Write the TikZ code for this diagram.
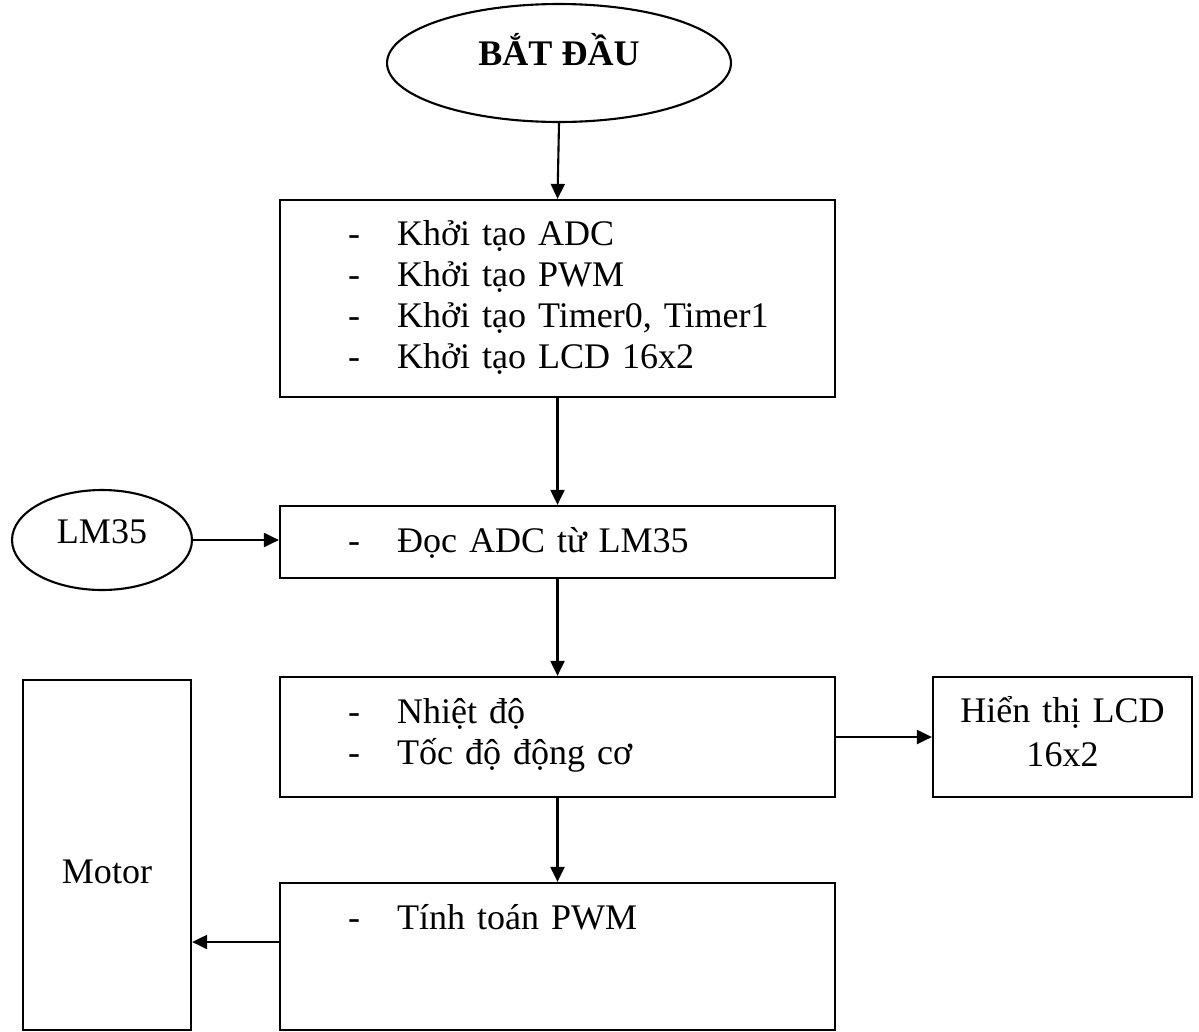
\documentclass[tikz,border=0pt]{standalone}
\usepackage{fontspec}
\setmainfont{Liberation Serif}
\usetikzlibrary{arrows.meta,shapes.geometric}

\newcommand{\dashline}[1]{\mbox{\makebox[0.98cm][l]{-}#1}}

\begin{document}
\begin{tikzpicture}[
  x=0.02cm, y=-0.02cm,
  every node/.style={font=\fontsize{20.5pt}{23.5pt}\selectfont},
  stepbox/.style={rectangle, draw, line width=1.3pt, align=left, text width=8.38cm, inner xsep=1.36cm, inner ysep=0pt},
  sidebox/.style={rectangle, draw, line width=1.3pt, align=center, inner xsep=0.1cm, inner ysep=0pt},
  terminal/.style={ellipse, draw, line width=1.2pt, inner sep=1pt},
  flow/.style={draw, line width=1.2pt, -{Triangle[length=0.3cm, width=0.28cm]}}
]
\useasboundingbox (0,0) rectangle (1199,1031);

\node[terminal, minimum width=6.88cm, minimum height=2.36cm, text height=0.68cm, text depth=0.6cm, font=\fontsize{20.5pt}{23.5pt}\selectfont\bfseries] (start) at (559,63) {BẮT ĐẦU};

\node[stepbox, text height=0.9cm, text depth=3.04cm] (init) at (557.5,298.5)
  {\dashline{Khởi tạo ADC}\\ \dashline{Khởi tạo PWM}\\ \dashline{Khởi tạo Timer0, Timer1}\\ \dashline{Khởi tạo LCD 16x2}};
\node[stepbox, text height=0.92cm, text depth=0.52cm] (read) at (557.5,542) {\dashline{Đọc ADC từ LM35}};
\node[terminal, minimum width=3.6cm, minimum height=2cm, text height=0.5cm, text depth=0.38cm] (sensor) at (102,540) {LM35};
\node[stepbox, text height=0.92cm, text depth=1.48cm] (show) at (557.5,737)
  {\dashline{Nhiệt độ}\\ \dashline{Tốc độ động cơ}};
\node[sidebox, text width=4.98cm, text height=0.9cm, text depth=1.5cm, font=\fontsize{20.5pt}{25.6pt}\selectfont] (lcd) at (1062.5,737) {Hiển thị LCD\\ 16x2};
\node[stepbox, text height=0.92cm, text depth=2.02cm] (calc) at (557.5,956.5) {\dashline{Tính toán PWM}};
\node[sidebox, text width=3.16cm, text height=4.06cm, text depth=2.94cm] (motor) at (107,855) {Motor};

% connectors
\draw[flow] (start.south) -- (init.north);
\draw[flow] (init) -- (read);
\draw[flow] (sensor.east) -- (sensor.east -| read.west);
\draw[flow] (read) -- (show);
\draw[flow] (show.east) -- (show.east -| lcd.west);
\draw[flow] (show) -- (calc);
\draw[flow] ([yshift=0.29cm]calc.west) -- ([yshift=0.29cm]calc.west -| motor.east);

\end{tikzpicture}
\end{document}
